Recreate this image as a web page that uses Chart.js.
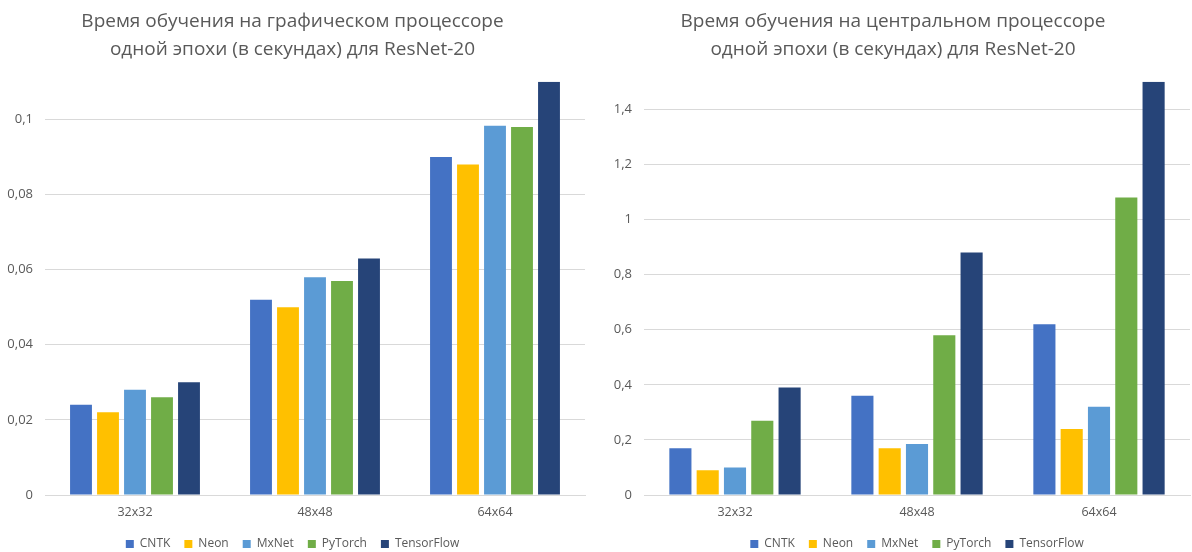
<!DOCTYPE html>
<html>
<head>
<meta charset="utf-8">
<script src="https://cdn.jsdelivr.net/npm/chart.js@4.4.1/dist/chart.umd.min.js"></script>
<style>
  html, body { margin: 0; background: #fff; overflow: hidden; }
  .wrap { position: absolute; top: 0; width: 596px; height: 560px; }
</style>
</head>
<body>
<div class="wrap" style="left:0"><canvas id="gpuChart"></canvas></div>
<div class="wrap" style="left:596px"><canvas id="cpuChart"></canvas></div>
<script>
const categories = ["32x32", "48x48", "64x64"];
const frameworks = ["CNTK", "Neon", "MxNet", "PyTorch", "TensorFlow"];
const colors = ["#4472C4", "#FFC000", "#5B9BD5", "#70AD47", "#264478"];

// GPU time per epoch, seconds
const gpuCNTK = [0.024, 0.052, 0.090];
const gpuNeon = [0.022, 0.050, 0.088];
const gpuMxNet = [0.028, 0.058, 0.0983];
const gpuPyTorch = [0.026, 0.057, 0.098];
const gpuTensorFlow = [0.030, 0.063, 0.11];

// CPU time per epoch, seconds
const cpuCNTK = [0.17, 0.36, 0.62];
const cpuNeon = [0.09, 0.17, 0.24];
const cpuMxNet = [0.10, 0.185, 0.32];
const cpuPyTorch = [0.27, 0.58, 1.08];
const cpuTensorFlow = [0.39, 0.88, 1.5];

const gpuTitle = ["Время обучения на графическом процессоре", "одной эпохи (в секундах) для ResNet-20"];
const cpuTitle = ["Время обучения на центральном процессоре", "одной эпохи (в секундах) для ResNet-20"];

Chart.defaults.font.family = "'Open Sans', sans-serif";
Chart.defaults.color = "#595959";

function makeChart(id, title, series, yMax, yStep, axisWidth, padRight, legendFull) {
  const ctx = document.getElementById(id).getContext("2d");
  return new Chart(ctx, {
    type: "bar",
    data: {
      labels: categories,
      datasets: series.map((data, i) => ({
        label: frameworks[i],
        data: data,
        backgroundColor: colors[i],
        borderWidth: 0,
        categoryPercentage: 0.75,
        barPercentage: 0.81
      }))
    },
    options: {
      animation: false,
      responsive: true,
      maintainAspectRatio: false,
      layout: { padding: { left: 0, right: padRight, top: 0, bottom: 0 } },
      plugins: {
        title: {
          display: true,
          text: title,
          color: "#595959",
          font: { size: 19, weight: "normal", lineHeight: 1.47 },
          padding: { top: 8, bottom: 18 }
        },
        legend: {
          position: "bottom",
          fullSize: legendFull,
          labels: {
            boxWidth: 8,
            boxHeight: 8,
            padding: 14,
            font: { size: 12, lineHeight: 1.25 },
            color: "#595959"
          }
        },
        tooltip: { enabled: false }
      },
      scales: {
        x: {
          afterFit: s => { s.height = 29; },
          grid: { display: false, drawTicks: false },
          border: { color: "#d9d9d9" },
          ticks: { padding: 10, font: { size: 12.5 }, color: "#595959" }
        },
        y: {
          min: 0,
          max: yMax,
          afterFit: s => { s.width = axisWidth; },
          grid: { color: "#d9d9d9", drawTicks: false },
          border: { display: false },
          ticks: {
            stepSize: yStep,
            includeBounds: false,
            padding: 12,
            font: { size: 13 },
            color: "#595959",
            callback: v => String(Number(v.toFixed(3))).replace(".", ",")
          }
        }
      }
    }
  });
}

makeChart("gpuChart", gpuTitle,
  [gpuCNTK, gpuNeon, gpuMxNet, gpuPyTorch, gpuTensorFlow],
  0.11, 0.02, 45, 11, true);

makeChart("cpuChart", cpuTitle,
  [cpuCNTK, cpuNeon, cpuMxNet, cpuPyTorch, cpuTensorFlow],
  1.5, 0.2, 48, 2, false);
</script>
</body>
</html>
